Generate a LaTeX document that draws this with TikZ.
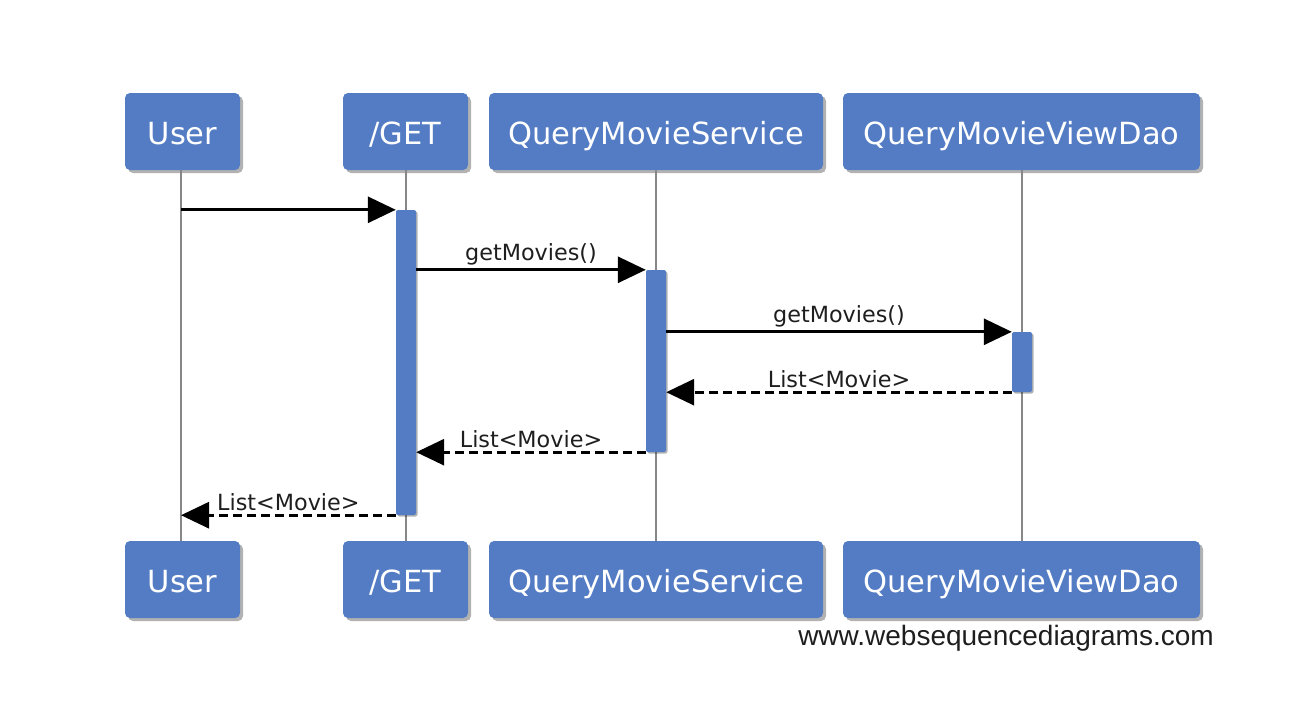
\documentclass[tikz,border=0pt]{standalone}
\usepackage{fontspec}
\setmainfont{DejaVu Sans}
\newfontfamily\wmfont{Liberation Sans}
\usetikzlibrary{arrows.meta,shadows}
\definecolor{boxblue}{RGB}{83,124,196}
\definecolor{lifegray}{RGB}{135,135,135}
\definecolor{txtdark}{RGB}{30,30,30}
\tikzset{
  actor/.style={draw=none, fill=boxblue, rounded corners=5pt, text=white,
    font=\fontsize{30.5}{36}\selectfont, inner sep=0pt, text height=26pt, text depth=0pt,
    drop shadow={shadow xshift=3pt, shadow yshift=-3pt, fill=black, opacity=0.3}},
  bar/.style={draw=none, fill=boxblue, rounded corners=2pt, minimum width=20pt, inner sep=0pt,
    drop shadow={shadow xshift=1.5pt, shadow yshift=-1.5pt, fill=black, opacity=0.3}},
  lifeline/.style={draw=lifegray, line width=2.2pt},
  msg/.style={draw=black, line width=3pt, -{Triangle[length=28pt,width=26pt]}},
  ret/.style={msg, dash pattern=on 9pt off 5pt},
  lbl/.style={text=txtdark, font=\fontsize{22.3}{26}\selectfont, inner sep=3pt, above, midway}
}
\begin{document}
\begin{tikzpicture}[x=1pt,y=-1pt]
\useasboundingbox (0,0) rectangle (1312,710);
% actor boxes
\node[actor, minimum width=115pt, minimum height=77pt] (u1) at (182.5,131.5) {User};
\node[actor, minimum width=125pt, minimum height=77pt] (g1) at (405.5,131.5) {/GET};
\node[actor, minimum width=334pt, minimum height=77pt] (s1) at (656,131.5) {QueryMovieService};
\node[actor, minimum width=357pt, minimum height=77pt] (d1) at (1021.5,131.5) {QueryMovieViewDao};
\node[actor, minimum width=115pt, minimum height=77pt] (u2) at (182.5,579.5) {User};
\node[actor, minimum width=125pt, minimum height=77pt] (g2) at (405.5,579.5) {/GET};
\node[actor, minimum width=334pt, minimum height=77pt] (s2) at (656,579.5) {QueryMovieService};
\node[actor, minimum width=357pt, minimum height=77pt] (d2) at (1021.5,579.5) {QueryMovieViewDao};
% lifelines
\coordinate (ut) at (181,170);
\coordinate (ub) at (181,541);
\draw[lifeline] (ut) -- (ub);
\draw[lifeline] (g1.south -| 406,0) -- (g2.north -| 406,0);
\draw[lifeline] (s1.south) -- (s2.north);
\draw[lifeline] (d1.south -| 1022,0) -- (d2.north -| 1022,0);
% activation bars
\node[bar, minimum height=305pt] (gbar) at (406,362.5) {};
\node[bar, minimum height=182pt] (sbar) at (656,361) {};
\node[bar, minimum height=60pt] (dbar) at (1022,362) {};
% messages
\draw[msg] (ut |- gbar.north) -- (gbar.north west);
\draw[msg] (gbar.east |- sbar.north) -- node[lbl] {getMovies()} (sbar.north west);
\draw[msg] (sbar.east |- dbar.north) -- node[lbl] {getMovies()} (dbar.north west);
\draw[ret] (dbar.south west) -- node[lbl] {List<Movie>} (sbar.east |- dbar.south);
\draw[ret] (sbar.south west) -- node[lbl] {List<Movie>} (gbar.east |- sbar.south);
\draw[ret] (gbar.south west) -- node[lbl] {List<Movie>} (ut |- gbar.south);
% watermark
\node[anchor=base east, inner sep=0pt, text=txtdark, font=\wmfont\fontsize{28}{32}\selectfont] (wm) at (1214,645) {www.websequencediagrams.com};
\end{tikzpicture}
\end{document}
